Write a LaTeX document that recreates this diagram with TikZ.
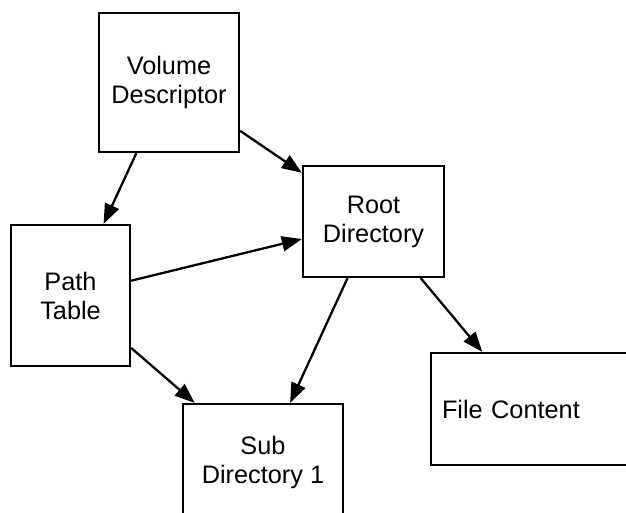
\documentclass[tikz,border=0pt]{standalone}
\usepackage{fontspec}
\setmainfont{Liberation Sans}
\usetikzlibrary{arrows.meta}
\begin{document}
\begin{tikzpicture}[x=0.02cm,y=-0.02cm,line width=1.3pt,
  every node/.style={font=\fontsize{14.4}{16.5}\selectfont},
  blk/.style={draw,inner sep=0pt,align=center},
  link/.style={-{Triangle[length=0.4cm,width=0.3cm]}}]
% page frame, boxes on the right and bottom run off the edge
\useasboundingbox (0,0) rectangle (626,512);
\clip (0,0) rectangle (626,512);
\node[blk,minimum width=2.8cm,minimum height=2.78cm] (vd) at (169,82.5) {Volume\\Descriptor};
\node[blk,minimum width=2.82cm,minimum height=2.22cm] (rd) at (373.5,221.5) {Root\\Directory};
\node[blk,minimum width=2.38cm,minimum height=2.82cm] (pt) at (70.5,295.5) {Path\\Table};
\node[blk,minimum width=3.2cm,minimum height=2.32cm] (sd) at (263,462) {Sub\\Directory 1};
\node[blk,minimum height=2.24cm,inner xsep=0.22cm,text width=3.52cm,align=left] (fc) at (530,409) {File Content};
% links between the tables
\foreach \a/\b in {vd/pt,vd/rd,pt/rd,pt/sd,rd/sd,rd/fc}
  \draw[link] (\a) -- (\b);
\end{tikzpicture}
\end{document}
